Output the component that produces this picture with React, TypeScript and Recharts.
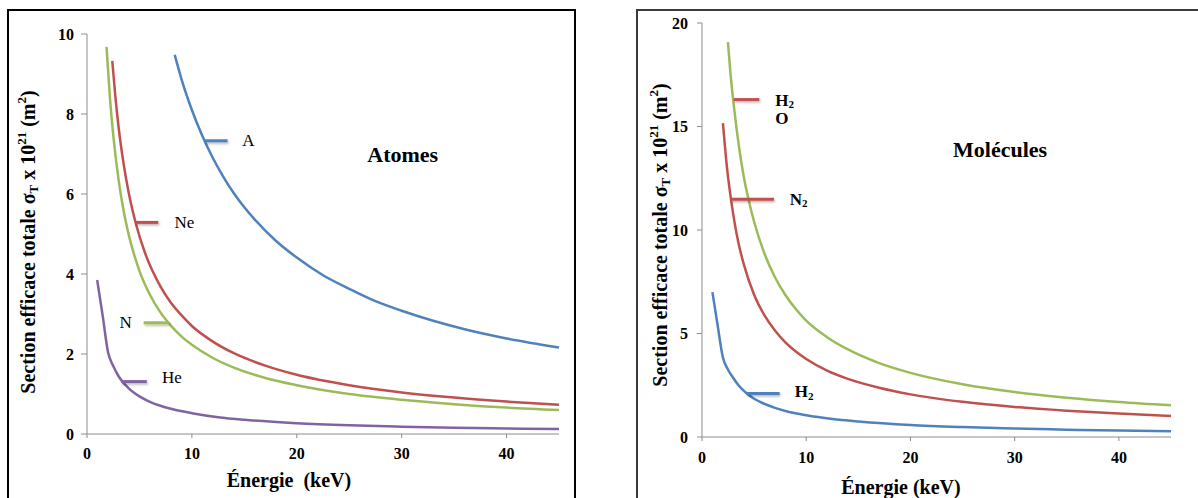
import React from "react";
import { LineChart, Line, XAxis, YAxis, ReferenceLine, ReferenceDot } from "recharts";

const energyTicks = [0, 10, 20, 30, 40];
const atomTicks = [0, 2, 4, 6, 8, 10];
const moleculeTicks = [0, 5, 10, 15, 20];

// Atomes : énergie (keV) / section efficace (x 10^21 m²)
const argonE = [8.36, 9, 10, 11, 12, 13, 14, 15, 16, 18, 20, 22.5, 25, 27.5, 30, 33, 36, 40, 45];
const argonS = [9.48, 8.88, 8.1, 7.45, 6.9, 6.43, 6.02, 5.67, 5.36, 4.83, 4.41, 3.97, 3.63, 3.32, 3.08, 2.83, 2.62, 2.39, 2.16];

const neonE = [2.41, 2.7, 3, 3.5, 4, 4.7, 5.5, 7, 8, 9, 10, 12, 14, 17, 20, 25, 30, 35, 40, 45];
const neonS = [9.33, 8.45, 7.7, 6.74, 6.0, 5.22, 4.55, 3.69, 3.28, 2.97, 2.7, 2.31, 2.02, 1.71, 1.48, 1.22, 1.04, 0.91, 0.81, 0.73];

const azoteE = [1.86, 2.2, 2.5, 3, 3.5, 4, 5, 6, 7, 8, 9, 10, 12, 14, 17, 20, 25, 30, 35, 40, 45];
const azoteS = [9.68, 8.36, 7.48, 6.38, 5.57, 4.96, 4.08, 3.48, 3.04, 2.71, 2.44, 2.23, 1.9, 1.66, 1.4, 1.22, 1.0, 0.855, 0.746, 0.66, 0.6];

const heliumE = [0.97, 1.5, 2, 2.5, 3, 4, 5, 6, 7, 8, 10, 12.5, 15, 20, 25, 30, 35, 40, 45];
const heliumS = [3.85, 2.95, 2.05, 1.7, 1.45, 1.135, 0.94, 0.805, 0.706, 0.63, 0.52, 0.42, 0.354, 0.27, 0.218, 0.183, 0.158, 0.139, 0.125];

// Molécules
const eauE = [2.49, 2.8, 3.08, 3.5, 4, 4.5, 5, 6, 7, 8, 9, 10, 12, 14, 17, 20, 25, 30, 35, 40, 45];
const eauS = [19.08, 17.2, 15.9, 14.2, 12.6, 11.4, 10.4, 8.85, 7.72, 6.86, 6.18, 5.62, 4.82, 4.23, 3.57, 3.1, 2.55, 2.17, 1.9, 1.69, 1.53];

const diazoteE = [2.01, 2.4, 2.82, 3.5, 4, 5, 6, 7, 8, 9, 10, 12, 14, 17, 20, 25, 30, 35, 40, 45];
const diazoteS = [15.16, 13.0, 11.35, 9.37, 8.36, 6.87, 5.87, 5.14, 4.57, 4.13, 3.77, 3.21, 2.81, 2.38, 2.06, 1.7, 1.45, 1.27, 1.13, 1.02];

const hydrogeneE = [1.0, 1.5, 2, 2.5, 3, 3.5, 4.3, 5, 6, 7, 8, 10, 12.5, 15, 20, 25, 30, 35, 40, 45];
const hydrogeneS = [7.0, 5.4, 3.85, 3.25, 2.85, 2.5, 2.1, 1.85, 1.6, 1.41, 1.26, 1.05, 0.87, 0.75, 0.58, 0.48, 0.41, 0.355, 0.31, 0.28];

// petits repères des étiquettes (en unités du graphique)
const atomNotes = [
  { id: "A", from: 11.2, to: 13.4, at: 7.33, textX: 14.8, textY: 7.33 },
  { id: "Ne", from: 4.6, to: 6.8, at: 5.29, textX: 8.35, textY: 5.29 },
  { id: "N", from: 5.4, to: 7.8, at: 2.78, textX: 3.1, textY: 2.78 },
  { id: "He", from: 3.25, to: 5.7, at: 1.31, textX: 7.15, textY: 1.42 },
];
const moleculeNotes = [
  { id: "H2O", from: 3.04, to: 5.5, at: 16.3, textX: 7.03, textY: 16.28 },
  { id: "N2", from: 2.75, to: 6.9, at: 11.49, textX: 8.41, textY: 11.49 },
  { id: "H2", from: 4.26, to: 7.45, at: 2.1, textX: 8.89, textY: 2.18 },
];

const SERIF = '"Liberation Serif", "Times New Roman", Times, serif';
const BLUE = "#4f81bd";
const RED = "#c0504d";
const GREEN = "#9bbb59";
const PURPLE = "#8064a2";
const AXIS = "#8c8c8c";

const noteColor: Record<string, string> = {
  A: BLUE, Ne: RED, N: GREEN, He: PURPLE, H2O: RED, N2: RED, H2: BLUE,
};

const pts = (e: number[], s: number[]) => e.map((x, i) => ({ e: x, s: s[i] }));

const tickStyle = { fill: "#000", fontSize: 16, fontWeight: "bold", fontFamily: SERIF };

function NoteText(props: any) {
  const vb = props.viewBox || {};
  const x = vb.x ?? props.x;
  const y = vb.y ?? props.y;
  return (
    <text
      x={x}
      y={y}
      dominantBaseline="central"
      textAnchor={props.anchor || "start"}
      fontFamily={SERIF}
      fontSize={props.size}
      fontWeight={props.weight}
      fill="#000"
    >
      {props.parts}
    </text>
  );
}

function YTitle({ px, py }: any) {
  return (
    <text
      transform={`translate(${px},${py}) rotate(-90)`}
      textAnchor="middle"
      dominantBaseline="central"
      fontFamily={SERIF}
      fontSize={20}
      fontWeight="bold"
      fill="#000"
    >
      Section efficace totale σ
      <tspan dy={5} fontSize={13}>T</tspan>
      <tspan dy={-5}> x 10</tspan>
      <tspan dy={-7} fontSize={13}>21</tspan>
      <tspan dy={7}> (m</tspan>
      <tspan dy={-7} fontSize={13}>2</tspan>
      <tspan dy={7}>)</tspan>
    </text>
  );
}

function XTitle({ px, py, label }: any) {
  return (
    <text
      x={px}
      y={py}
      textAnchor="middle"
      dominantBaseline="central"
      fontFamily={SERIF}
      fontSize={20}
      fontWeight="bold"
      fill="#000"
      style={{ whiteSpace: "pre" }}
    >
      {label}
    </text>
  );
}

const sub2 = (k: string) => (
  <tspan key={k} dy={4} fontSize={11}>2</tspan>
);

function textDot(key: string, x: number, y: number, parts: any, size: number, weight: string, anchor = "start") {
  return (
    <ReferenceDot
      key={key}
      x={x}
      y={y}
      r={0}
      fill="none"
      stroke="none"
      label={<NoteText parts={parts} size={size} weight={weight} anchor={anchor} />}
    />
  );
}

function noteLine(n: { id: string; from: number; to: number; at: number }, shadowId: string) {
  return (
    <ReferenceLine
      key={"l" + n.id}
      segment={[{ x: n.from, y: n.at }, { x: n.to, y: n.at }]}
      stroke={noteColor[n.id]}
      strokeWidth={3}
      filter={`url(#${shadowId})`}
    />
  );
}

function Shadow({ id }: { id: string }) {
  return (
    <defs>
      <filter id={id} filterUnits="userSpaceOnUse" x="0" y="0" width="600" height="498">
        <feDropShadow dx="1" dy="1.5" stdDeviation="0.8" floodColor="#000" floodOpacity="0.3" />
      </filter>
    </defs>
  );
}

function AtomChart() {
  const lineProps = { type: "monotone" as const, dataKey: "s", dot: false, strokeWidth: 2.5, isAnimationActive: false };
  return (
    <LineChart width={600} height={498} margin={{ top: 34, right: 41, bottom: 34, left: 0 }}>
      <Shadow id="noteShadowA" />
      <XAxis
        type="number"
        dataKey="e"
        domain={[0, 45]}
        ticks={energyTicks}
        height={30}
        stroke={AXIS}
        tickSize={4}
        tickMargin={10}
        tick={tickStyle}
        label={<XTitle px={289} py={480} label={"Énergie  (keV)"} />}
      />
      <YAxis
        type="number"
        domain={[0, 10]}
        ticks={atomTicks}
        width={87}
        stroke={AXIS}
        tickSize={6}
        tickMargin={7}
        tick={tickStyle}
        label={<YTitle px={28} py={242} />}
      />
      <Line {...lineProps} data={pts(argonE, argonS)} stroke={BLUE} />
      <Line {...lineProps} data={pts(neonE, neonS)} stroke={RED} />
      <Line {...lineProps} data={pts(azoteE, azoteS)} stroke={GREEN} />
      <Line {...lineProps} data={pts(heliumE, heliumS)} stroke={PURPLE} />
      {atomNotes.map((n) => noteLine(n, "noteShadowA"))}
      {atomNotes.map((n) => textDot("t" + n.id, n.textX, n.textY, n.id, 17, "normal"))}
      {textDot("title", 30.1, 7.0, "Atomes", 22, "bold", "middle")}
    </LineChart>
  );
}

function MoleculeChart() {
  const lineProps = { type: "monotone" as const, dataKey: "s", dot: false, strokeWidth: 2.5, isAnimationActive: false };
  const h2o = moleculeNotes[0];
  const n2 = moleculeNotes[1];
  const h2 = moleculeNotes[2];
  return (
    <LineChart width={588} height={498} margin={{ top: 23, right: 27, bottom: 31, left: 0 }}>
      <Shadow id="noteShadowM" />
      <XAxis
        type="number"
        dataKey="e"
        domain={[0, 45]}
        ticks={energyTicks}
        height={30}
        stroke={AXIS}
        tickSize={4}
        tickMargin={11}
        tick={tickStyle}
        label={<XTitle px={291} py={487} label={"Énergie (keV)"} />}
      />
      <YAxis
        type="number"
        domain={[0, 20]}
        ticks={moleculeTicks}
        width={92}
        stroke={AXIS}
        tickSize={5}
        tickMargin={9}
        tick={tickStyle}
        label={<YTitle px={50} py={235} />}
      />
      <Line {...lineProps} data={pts(eauE, eauS)} stroke={GREEN} />
      <Line {...lineProps} data={pts(diazoteE, diazoteS)} stroke={RED} />
      <Line {...lineProps} data={pts(hydrogeneE, hydrogeneS)} stroke={BLUE} />
      {moleculeNotes.map((n) => noteLine(n, "noteShadowM"))}
      {textDot("tH2O", h2o.textX, h2o.textY, ["H", sub2("a")], 17, "bold")}
      {textDot("tO", h2o.textX, 15.38, "O", 17, "bold")}
      {textDot("tN2", n2.textX, n2.textY, ["N", sub2("b")], 17, "bold")}
      {textDot("tH2", h2.textX, h2.textY, ["H", sub2("c")], 17, "bold")}
      {textDot("title", 28.6, 13.9, "Molécules", 22, "bold", "middle")}
    </LineChart>
  );
}

export default function App() {
  return (
    <div style={{ position: "absolute", left: 0, top: 0, width: 1198, height: 498, overflow: "hidden", background: "#fff" }}>
      <div style={{ position: "absolute", left: 7, top: 9, width: 565, height: 520, border: "2px solid #000" }} />
      <div style={{ position: "absolute", left: 636, top: 9, width: 600, height: 520, border: "2px solid #3a3a3a" }} />
      <div style={{ position: "absolute", left: 0, top: 0 }}>
        <AtomChart />
      </div>
      <div style={{ position: "absolute", left: 610, top: 0 }}>
        <MoleculeChart />
      </div>
    </div>
  );
}
